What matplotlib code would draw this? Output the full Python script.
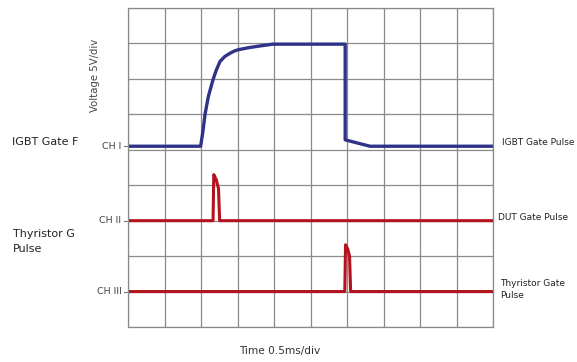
import numpy as np
import matplotlib.pyplot as plt

# Scope trace data, in divisions (x: 0.5 ms/div, y: 5 V/div)
ch1_x = [0, 1.99, 2.05, 2.11, 2.2, 2.33, 2.42, 2.52, 2.65, 2.79, 2.9, 3.01,
         3.3, 3.62, 3.97, 5.95, 5.95, 6.63, 10]
ch1_y = [5.1, 5.1, 5.5, 6.0, 6.5, 6.98, 7.25, 7.49, 7.63, 7.72, 7.78, 7.82,
         7.88, 7.93, 7.98, 7.98, 5.28, 5.1, 5.1]

ch2_x = [0, 2.33, 2.35, 2.42, 2.48, 2.51, 2.6, 10]
ch2_y = [3.0, 3.0, 4.3, 4.15, 3.9, 3.0, 3.0, 3.0]

ch3_x = [0, 5.94, 5.96, 6.02, 6.07, 6.1, 6.17, 10]
ch3_y = [1.0, 1.0, 2.32, 2.2, 2.0, 1.0, 1.0, 1.0]

ch_names = ['CH I', 'CH II', 'CH III']
ch_levels = [5.1, 3.0, 1.0]

fig = plt.figure(figsize=(5.77, 3.62), dpi=100)
ax = fig.add_axes([128/577, 1-327/362, 365/577, 319/362])

ax.set_xlim(0, 10)
ax.set_ylim(0, 9)
ax.set_xticks(np.arange(0, 11))
ax.set_yticks(np.arange(0, 10))
ax.grid(True, color='#8a8a8a', linewidth=0.9)
ax.tick_params(length=0, labelbottom=False, labelleft=False)
for s in ax.spines.values():
    s.set_color('#8a8a8a')
    s.set_linewidth(0.9)

ax.plot(ch1_x, ch1_y, color='#2e3388', linewidth=2.4, solid_joinstyle='round')
ax.plot(ch2_x, ch2_y, color='#b3121f', linewidth=2.2, solid_joinstyle='round')
ax.plot(ch3_x, ch3_y, color='#b3121f', linewidth=2.2, solid_joinstyle='round')

# channel labels with small ticks
for name, lev in zip(ch_names, ch_levels):
    ax.plot([-0.12, 0], [lev, lev], color='#777777', linewidth=0.8, clip_on=False)
    ax.text(-0.18, lev, name, ha='right', va='center', fontsize=6.8, color='#444444')

ax.text(-0.9, 7.1, 'Voltage 5V/div', rotation=90, ha='center', va='center',
        fontsize=7.3, color='#444444')
fig.text(280/577, 1-351/362, 'Time 0.5ms/div', ha='center', va='center',
         fontsize=7.6, color='#333333')

# left side descriptions (cut off like the original)
fig.text(12/577, 1-142/362, 'IGBT Gate F', ha='left', va='center', fontsize=8, color='#222222')
fig.text(13/577, 1-234/362, 'Thyristor G', ha='left', va='center', fontsize=8, color='#222222')
fig.text(13/577, 1-249/362, 'Pulse', ha='left', va='center', fontsize=8, color='#222222')

# right side descriptions
fig.text(502/577, 1-143/362, 'IGBT Gate Pulse', ha='left', va='center', fontsize=6.5, color='#222222')
fig.text(498/577, 1-217/362, 'DUT Gate Pulse', ha='left', va='center', fontsize=6.5, color='#222222')
fig.text(500/577, 1-284/362, 'Thyristor Gate', ha='left', va='center', fontsize=6.5, color='#222222')
fig.text(500/577, 1-296/362, 'Pulse', ha='left', va='center', fontsize=6.5, color='#222222')

fig.savefig('out.png', dpi=100)
